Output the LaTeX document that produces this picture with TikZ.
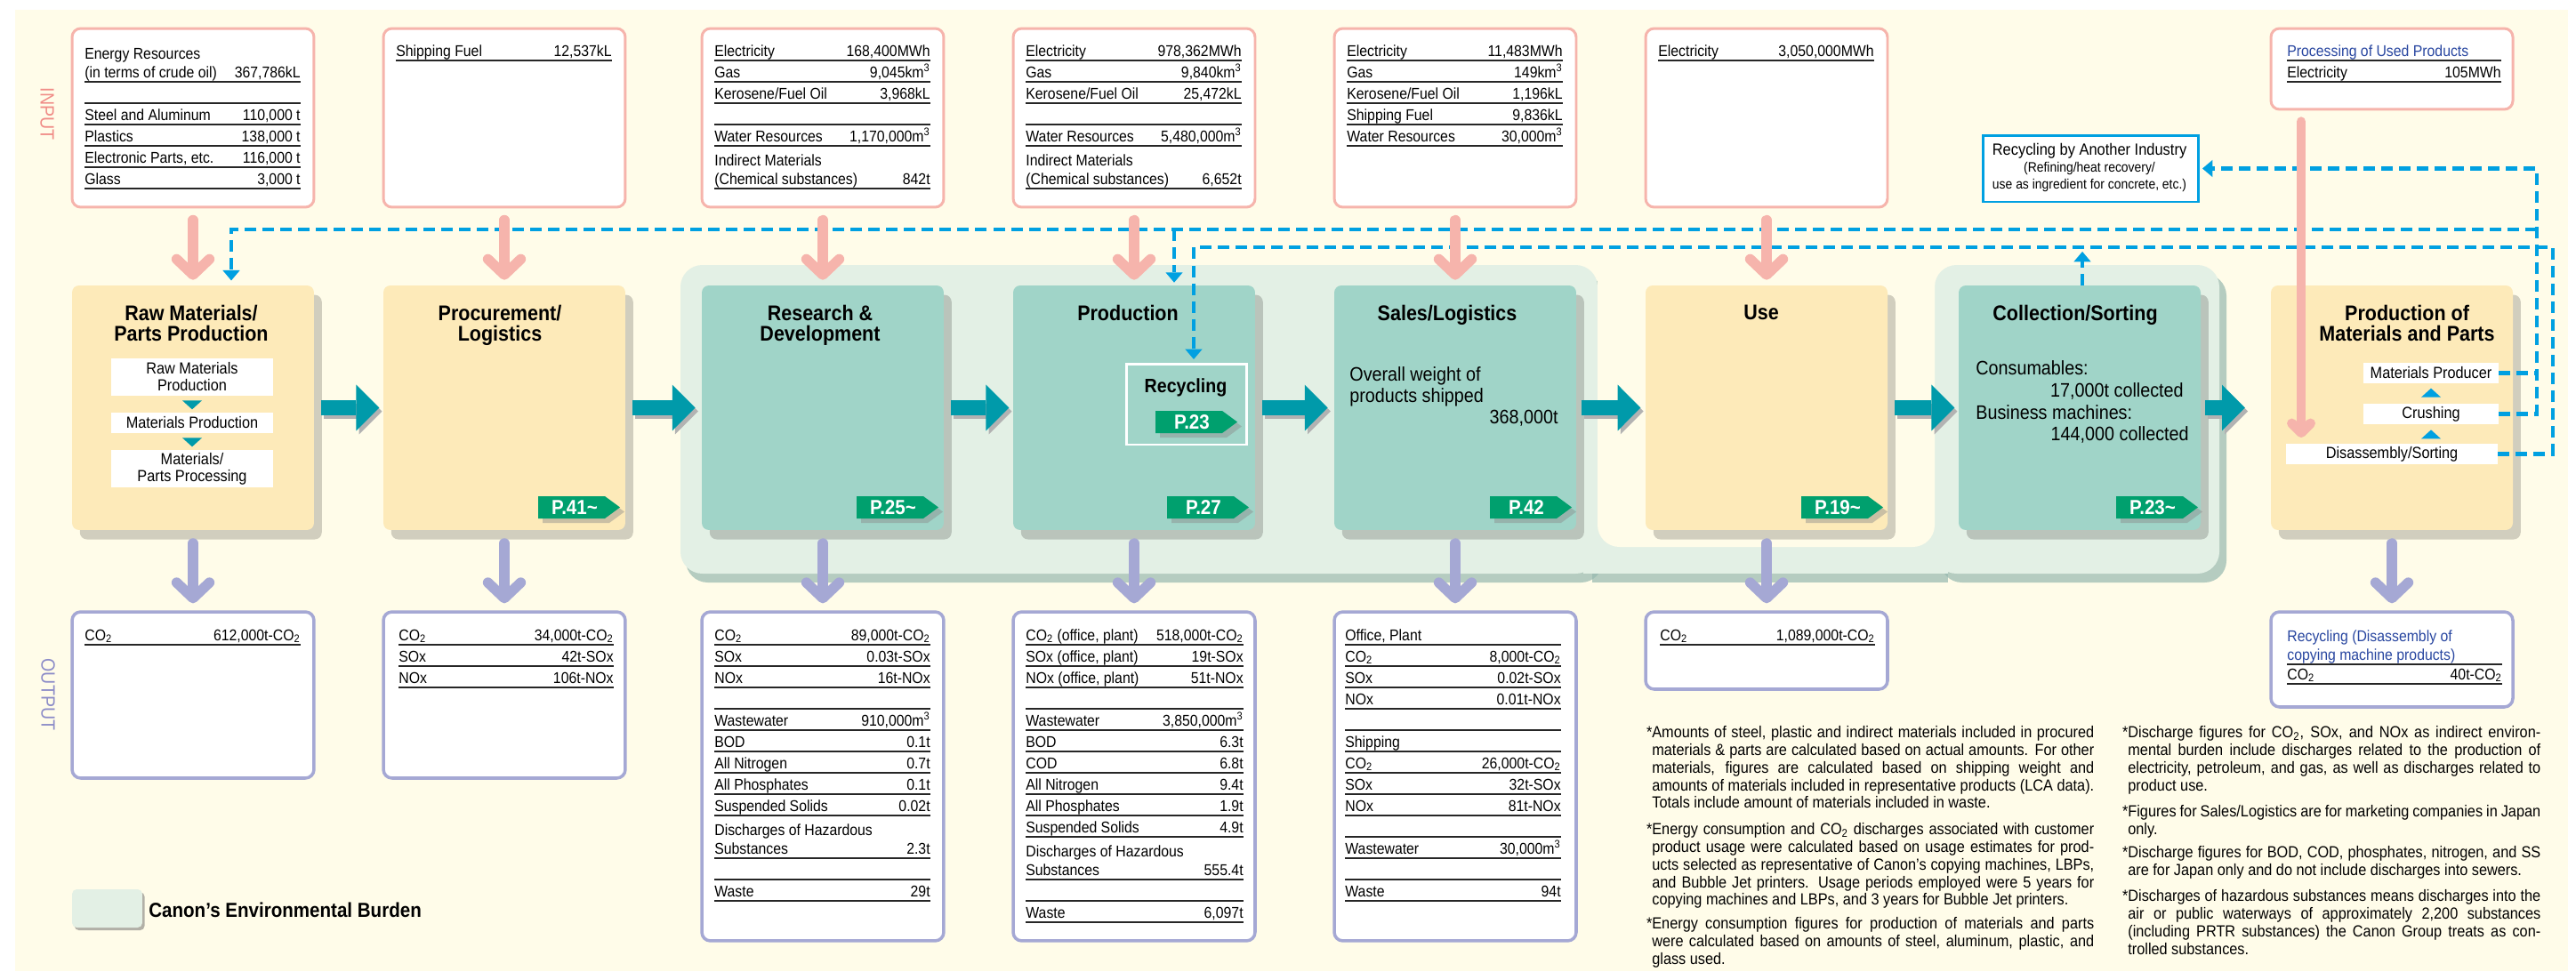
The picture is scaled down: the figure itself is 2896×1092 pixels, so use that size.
\documentclass[tikz,border=0pt]{standalone}
\usepackage{fontspec}
\setmainfont{Liberation Sans}[FakeStretch=0.9]
\usetikzlibrary{arrows.meta,shadows}

\definecolor{cream}{RGB}{255,252,233}
\definecolor{inpink}{RGB}{246,180,172}
\definecolor{inlabel}{RGB}{240,140,135}
\definecolor{outlav}{RGB}{165,168,212}
\definecolor{outlabel}{RGB}{140,140,200}
\definecolor{boxorange}{RGB}{253,234,185}
\definecolor{boxteal}{RGB}{160,212,200}
\definecolor{burden}{RGB}{227,240,229}
\definecolor{burdenshade}{RGB}{150,185,175}
\definecolor{arrowteal}{RGB}{0,154,170}
\definecolor{tagteal}{RGB}{0,160,110}
\definecolor{dashblue}{RGB}{0,160,225}
\definecolor{titleblue}{RGB}{40,70,160}

\newcommand\cotwo{CO\textsubscript{2}}
\newcommand\mcube{m\textsuperscript{3}}
\newcounter{cell}
\newcommand\trow[5]{%
  \stepcounter{cell}%
  \node[celltext, anchor=base west] (c\thecell a) at (#1,#3-5) {#4};
  \node[celltext, anchor=base east] (c\thecell b) at (#2,#3-5) {#5};
  \draw[rowrule] (#1,#3) -- (#2,#3);}
\newcommand\trowii[6]{%
  \stepcounter{cell}%
  \node[celltext, anchor=base west] (c\thecell a) at (#1,#3-26) {#4};
  \node[celltext, anchor=base west] (c\thecell b) at (#1,#3-5) {#5};
  \node[celltext, anchor=base east] (c\thecell c) at (#2,#3-5) {#6};
  \draw[rowrule] (#1,#3) -- (#2,#3);}
\newcommand\tblline[3]{\draw[rowrule] (#1,#3) -- (#2,#3);}
\newcommand\ptag[4]{%
  \fill[black!45, opacity=.45] (#2-87,#3+5) -- (#2-12,#3+5) -- (#2+5,#3+17.5) -- (#2-12,#3+30) -- (#2-87,#3+30) -- cycle;
  \fill[tagteal] (#2-92,#3) -- (#2-17,#3) -- (#2,#3+12.5) -- (#2-17,#3+25) -- (#2-92,#3+25) -- cycle;
  \node[tagtext] (#1) at (#2-51,#3+12.5) {#4};}
\newcommand\flowarr[4]{%
  \draw[flow, draw=black!30, transform canvas={xshift=1.8pt, yshift=-2.3pt}, shorten <=#3, shorten >=#4] (#1.east) -- (#2.west);
  \draw[flow, shorten <=#3, shorten >=#4] (#1.east) -- (#2.west);}
\newcommand\jla[1]{\makebox[9.94cm][s]{#1}}
\newcommand\jra[1]{\makebox[9.28cm][s]{#1}}

\begin{document}
\begin{tikzpicture}[x=0.02cm, y=-0.02cm,
  celltext/.style={inner sep=0pt, font=\fontsize{10}{12}\selectfont},
  rowrule/.style={line width=0.9pt, black!85},
  inbox/.style={draw=inpink, line width=1.7pt, fill=white, rounded corners=5.5pt, minimum width=5.44cm},
  outbox/.style={draw=outlav, line width=2pt, fill=white, rounded corners=5.5pt, minimum width=5.44cm},
  procbox/.style={rounded corners=4.5pt, minimum width=5.44cm, minimum height=5.5cm,
    drop shadow={shadow xshift=5pt, shadow yshift=-6pt, opacity=.18, fill=black}},
  proctitle/.style={inner sep=0pt, anchor=north, align=center, font=\fontsize{13.6}{13}\selectfont\bfseries},
  subbox/.style={fill=white, inner sep=0pt, align=center, font=\fontsize{10.3}{10.8}\selectfont},
  bigtext/.style={inner sep=0pt, font=\fontsize{12.5}{14}\selectfont},
  tagtext/.style={inner sep=0pt, text=white, font=\fontsize{13}{14}\selectfont\bfseries},
  inarrow/.style={inpink, line width=6.5pt, line cap=round, -{Straight Barb[length=10pt, width=21pt, round]}},
  outarrow/.style={outlav, line width=6.5pt, line cap=round, -{Straight Barb[length=10pt, width=21pt, round]}},
  pinkthin/.style={inpink, line width=6.2pt, line cap=round, -{Straight Barb[length=6pt, width=12pt, round]}},
  flow/.style={arrowteal, line width=9.6pt, -{Triangle[length=14.7pt, width=29.5pt, line width=0pt]}},
  recyc/.style={dashblue, line width=2.3pt, dash pattern=on 7.4pt off 4pt},
  recycarrow/.style={recyc, -{Triangle[length=6.5pt, width=11pt, line width=0pt]}},
  note/.style={inner sep=0pt, anchor=north west, align=left, font=\fontsize{10.3}{11.3}\selectfont},
]
\useasboundingbox (0,0) rectangle (2896,1092);
\fill[cream] (17,11) rectangle (2887,1092);

\fill[burdenshade, opacity=.7, rounded corners=14pt] (771,308) rectangle (1802,655);
\fill[burdenshade, opacity=.7, rounded corners=14pt] (2181,308) rectangle (2503,655);
\fill[burdenshade, opacity=.7] (1790,570) rectangle (2190,655);
\fill[burden, rounded corners=14pt] (765,298) rectangle (1796,645);
\fill[burden, rounded corners=14pt] (2175,298) rectangle (2495,645);
\fill[burden] (1780,560) rectangle (2190,645);
\fill[cream, rounded corners=14pt] (1796,240) rectangle (2175,615);

\node[rotate=-90, inner sep=0pt, text=inlabel, font=\fontsize{12.4}{14}\selectfont] (inlbl) at (53,128) {INPUT};
\node[rotate=-90, inner sep=0pt, text=outlabel, font=\fontsize{12.4}{14}\selectfont] (outlbl) at (54,781) {OUTPUT};

\node[inbox, minimum height=4.02cm] (in0) at (217,132.5) {};
\node[inbox, minimum height=4.02cm] (in1) at (567,132.5) {};
\node[inbox, minimum height=4.02cm] (in2) at (925,132.5) {};
\node[inbox, minimum height=4.02cm] (in3) at (1275,132.5) {};
\node[inbox, minimum height=4.02cm] (in4) at (1636,132.5) {};
\node[inbox, minimum height=4.02cm] (in5) at (1986,132.5) {};
\node[inbox, minimum height=1.82cm] (in7) at (2689,77.5) {};

\node[procbox, fill=boxorange] (raw) at (217,458.5) {};
\node[procbox, fill=boxorange] (proc) at (567,458.5) {};
\node[procbox, fill=boxteal] (rnd) at (925,458.5) {};
\node[procbox, fill=boxteal] (prod) at (1275,458.5) {};
\node[procbox, fill=boxteal] (sales) at (1636,458.5) {};
\node[procbox, fill=boxorange] (use) at (1986,458.5) {};
\node[procbox, fill=boxteal] (coll) at (2338,458.5) {};
\node[procbox, fill=boxorange] (pmat) at (2689,458.5) {};

\node[outbox, minimum height=3.74cm] (out0) at (217,781.5) {};
\node[outbox, minimum height=3.74cm] (out1) at (567,781.5) {};
\node[outbox, minimum height=7.4cm] (out2) at (925,873) {};
\node[outbox, minimum height=7.4cm] (out3) at (1275,873) {};
\node[outbox, minimum height=7.4cm] (out4) at (1636,873) {};
\node[outbox, minimum height=1.74cm] (out5) at (1986,731.5) {};
\node[outbox, minimum height=2.14cm] (out7) at (2689,741.5) {};

\trowii{95}{338}{92}{Energy Resources}{(in terms of crude oil)}{367,786kL}
\tblline{95}{338}{116}
\trow{95}{338}{140}{Steel and Aluminum}{110,000 t}
\trow{95}{338}{164}{Plastics}{138,000 t}
\trow{95}{338}{188}{Electronic Parts, etc.}{116,000 t}
\trow{95}{338}{212}{Glass}{3,000 t}

\trow{445}{688}{68}{Shipping Fuel}{12,537kL}

\trow{803}{1046}{68}{Electricity}{168,400MWh}
\trow{803}{1046}{92}{Gas}{9,045k\mcube}
\trow{803}{1046}{116}{Kerosene/Fuel Oil}{3,968kL}
\tblline{803}{1046}{140}
\trow{803}{1046}{164}{Water Resources}{1,170,000\mcube}
\trowii{803}{1046}{212}{Indirect Materials}{(Chemical substances)}{842t}

\trow{1153}{1396}{68}{Electricity}{978,362MWh}
\trow{1153}{1396}{92}{Gas}{9,840k\mcube}
\trow{1153}{1396}{116}{Kerosene/Fuel Oil}{25,472kL}
\tblline{1153}{1396}{140}
\trow{1153}{1396}{164}{Water Resources}{5,480,000\mcube}
\trowii{1153}{1396}{212}{Indirect Materials}{(Chemical substances)}{6,652t}

\trow{1514}{1757}{68}{Electricity}{11,483MWh}
\trow{1514}{1757}{92}{Gas}{149k\mcube}
\trow{1514}{1757}{116}{Kerosene/Fuel Oil}{1,196kL}
\trow{1514}{1757}{140}{Shipping Fuel}{9,836kL}
\trow{1514}{1757}{164}{Water Resources}{30,000\mcube}

\trow{1864}{2107}{68}{Electricity}{3,050,000MWh}

\trow{2571}{2812}{68}{\textcolor{titleblue}{Processing of Used Products}}{}
\trow{2571}{2812}{92}{Electricity}{105MWh}

\trow{95}{338}{725}{\cotwo}{612,000t-\cotwo}

\trow{448}{690}{725}{\cotwo}{34,000t-\cotwo}
\trow{448}{690}{749}{SOx}{42t-SOx}
\trow{448}{690}{773}{NOx}{106t-NOx}

\trow{803}{1046}{725}{\cotwo}{89,000t-\cotwo}
\trow{803}{1046}{749}{SOx}{0.03t-SOx}
\trow{803}{1046}{773}{NOx}{16t-NOx}
\tblline{803}{1046}{797}
\trow{803}{1046}{821}{Wastewater}{910,000\mcube}
\trow{803}{1046}{845}{BOD}{0.1t}
\trow{803}{1046}{869}{All Nitrogen}{0.7t}
\trow{803}{1046}{893}{All Phosphates}{0.1t}
\trow{803}{1046}{917}{Suspended Solids}{0.02t}
\trowii{803}{1046}{965}{Discharges of Hazardous}{Substances}{2.3t}
\tblline{803}{1046}{989}
\trow{803}{1046}{1013}{Waste}{29t}

\trow{1153}{1398}{725}{\cotwo{} (office, plant)}{518,000t-\cotwo}
\trow{1153}{1398}{749}{SOx (office, plant)}{19t-SOx}
\trow{1153}{1398}{773}{NOx (office, plant)}{51t-NOx}
\tblline{1153}{1398}{797}
\trow{1153}{1398}{821}{Wastewater}{3,850,000\mcube}
\trow{1153}{1398}{845}{BOD}{6.3t}
\trow{1153}{1398}{869}{COD}{6.8t}
\trow{1153}{1398}{893}{All Nitrogen}{9.4t}
\trow{1153}{1398}{917}{All Phosphates}{1.9t}
\trow{1153}{1398}{941}{Suspended Solids}{4.9t}
\trowii{1153}{1398}{989}{Discharges of Hazardous}{Substances}{555.4t}
\tblline{1153}{1398}{1013}
\trow{1153}{1398}{1037}{Waste}{6,097t}

\trow{1512}{1755}{725}{Office, Plant}{}
\trow{1512}{1755}{749}{\cotwo}{8,000t-\cotwo}
\trow{1512}{1755}{773}{SOx}{0.02t-SOx}
\trow{1512}{1755}{797}{NOx}{0.01t-NOx}
\tblline{1512}{1755}{821}
\trow{1512}{1755}{845}{Shipping}{}
\trow{1512}{1755}{869}{\cotwo}{26,000t-\cotwo}
\trow{1512}{1755}{893}{SOx}{32t-SOx}
\trow{1512}{1755}{917}{NOx}{81t-NOx}
\tblline{1512}{1755}{941}
\trow{1512}{1755}{965}{Wastewater}{30,000\mcube}
\tblline{1512}{1755}{989}
\trow{1512}{1755}{1013}{Waste}{94t}

\trow{1866}{2108}{725}{\cotwo}{1,089,000t-\cotwo}

\trowii{2571}{2813}{747}{\textcolor{titleblue}{Recycling (Disassembly of}}{\textcolor{titleblue}{copying machine products)}}{}
\trow{2571}{2813}{769}{\cotwo}{40t-\cotwo}

\node[proctitle] (t0) at (215,343) {Raw Materials/\\Parts Production};
\node[proctitle] (t1) at (562,343) {Procurement/\\Logistics};
\node[proctitle] (t2) at (922,343) {Research \&\\Development};
\node[proctitle] (t3) at (1268,343) {Production};
\node[proctitle] (t4) at (1627,343) {Sales/Logistics};
\node[proctitle] (t5) at (1980,343) {Use};
\node[proctitle] (t6) at (2333,343) {Collection/Sorting};
\node[proctitle] (t7) at (2706,343) {Production of\\Materials and Parts};

\node[subbox, minimum width=3.64cm, minimum height=0.84cm] (rmp) at (216,424) {Raw Materials\\Production};
\node[subbox, minimum width=3.64cm, minimum height=0.46cm] (mpd) at (216,475.5) {Materials Production};
\node[subbox, minimum width=3.64cm, minimum height=0.84cm] (mpp) at (216,527) {Materials/\\Parts Processing};
\fill[arrowteal] (rmp.south) ++(-11,5) -- ++(22,0) -- ++(-11,10) -- cycle;
\fill[arrowteal] (mpd.south) ++(-11,5) -- ++(22,0) -- ++(-11,10) -- cycle;

\node[subbox, minimum width=3.04cm, minimum height=0.46cm] (mp) at (2733,419.5) {Materials Producer};
\node[subbox, minimum width=3.04cm, minimum height=0.46cm] (cr) at (2733,465.5) {Crushing};
\node[subbox, minimum width=4.76cm, minimum height=0.46cm] (ds) at (2689,510.5) {Disassembly/Sorting};
\fill[dashblue] (cr.north) ++(-11,-7) -- ++(22,0) -- ++(-11,-10) -- cycle;
\fill[dashblue] (cr.south) ++(-11,16) -- ++(22,0) -- ++(-11,-10) -- cycle;

\node[bigtext, anchor=base west] (sw1) at (1517,428) {Overall weight of};
\node[bigtext, anchor=base west] (sw2) at (1517,452) {products shipped};
\node[bigtext, anchor=base east] (sw3) at (1752,476) {368,000t};
\node[bigtext, anchor=base west] (cs1) at (2221,421) {Consumables:};
\node[bigtext, anchor=base east] (cs2) at (2455,446) {17,000t collected};
\node[bigtext, anchor=base west] (cs3) at (2221,471) {Business machines:};
\node[bigtext, anchor=base east] (cs4) at (2461,495) {144,000 collected};

\node[draw=white, line width=1.7pt, minimum width=2.7cm, minimum height=1.82cm] (rec) at (1333.5,454.5) {};
\node[inner sep=0pt, anchor=base, font=\fontsize{12.4}{14}\selectfont\bfseries] (rect) at (1333,441) {Recycling};
\ptag{p23r}{1391}{462}{P.23}

\ptag{p41}{697}{558}{P.41\textasciitilde}
\ptag{p25}{1055}{558}{P.25\textasciitilde}
\ptag{p27}{1404}{558}{P.27}
\ptag{p42}{1767}{558}{P.42}
\ptag{p19}{2117}{558}{P.19\textasciitilde}
\ptag{p23}{2471}{558}{P.23\textasciitilde}

\node[draw=dashblue, line width=1.7pt, fill=white, minimum width=4.84cm, minimum height=1.5cm] (rai) at (2350,189.5) {};
\node[inner sep=0pt, anchor=base, font=\fontsize{10.4}{12}\selectfont] (rai1) at (2349,174) {Recycling by Another Industry};
\node[inner sep=0pt, anchor=base, font=\fontsize{8.8}{10}\selectfont] (rai2) at (2349,193) {(Refining/heat recovery/};
\node[inner sep=0pt, anchor=base, font=\fontsize{8.8}{10}\selectfont] (rai3) at (2349,212) {use as ingredient for concrete, etc.)};

\coordinate (ua) at (2852,189.5);
\coordinate (ub) at (2852,258);
\coordinate (uc) at (260,258);
\coordinate (ud) at (1320,258);
\coordinate (la) at (1342,278);
\coordinate (lb) at (2870,278);
\coordinate (lc) at (2341,278);
\coordinate (dsin) at (2587,492);

\draw[recycarrow, shorten >=2pt] (cr.east) -| (ua) -- (rai.east);
\draw[recyc] (mp.east) -- (mp.east -| ua);
\draw[recycarrow, shorten >=3pt] (ub) -- (uc) -- (uc |- raw.north);
\draw[recycarrow, shorten >=1.7pt] (ud) -- (ud |- prod.north);
\draw[recycarrow, shorten >=2pt] (ds.east) -| (lb) -- (la) -- (la |- rec.north);
\draw[recycarrow, shorten >=2.8pt] (coll.north -| lc) -- (lc);

\draw[inarrow, shorten <=7.4pt, shorten >=3.4pt] (in0.south) -- (raw.north);
\draw[inarrow, shorten <=7.4pt, shorten >=3.4pt] (in1.south) -- (proc.north);
\draw[inarrow, shorten <=7.4pt, shorten >=3.4pt] (in2.south) -- (rnd.north);
\draw[inarrow, shorten <=7.4pt, shorten >=3.4pt] (in3.south) -- (prod.north);
\draw[inarrow, shorten <=7.4pt, shorten >=3.4pt] (in4.south) -- (sales.north);
\draw[inarrow, shorten <=7.4pt, shorten >=3.4pt] (in5.south) -- (use.north);
\draw[pinkthin, shorten <=7pt] (in7.south -| dsin) -- (dsin);

\draw[outarrow, shorten <=8.3pt, shorten >=4.5pt] (raw.south) -- (out0.north);
\draw[outarrow, shorten <=8.3pt, shorten >=4.5pt] (proc.south) -- (out1.north);
\draw[outarrow, shorten <=8.3pt, shorten >=4.5pt] (rnd.south) -- (out2.north);
\draw[outarrow, shorten <=8.3pt, shorten >=4.5pt] (prod.south) -- (out3.north);
\draw[outarrow, shorten <=8.3pt, shorten >=4.5pt] (sales.south) -- (out4.north);
\draw[outarrow, shorten <=8.3pt, shorten >=4.5pt] (use.south) -- (out5.north);
\draw[outarrow, shorten <=8.3pt, shorten >=4.5pt] (pmat.south) -- (out7.north);

\flowarr{raw}{proc}{4.5pt}{2.5pt}
\flowarr{proc}{rnd}{4.5pt}{4pt}
\flowarr{rnd}{prod}{4.5pt}{2.5pt}
\flowarr{prod}{sales}{4.5pt}{4pt}
\flowarr{sales}{use}{3pt}{3pt}
\flowarr{use}{coll}{4.5pt}{2.5pt}
\flowarr{coll}{pmat}{2.8pt}{16.4pt}

\node[fill=burden, rounded corners=3pt, minimum width=1.58cm, minimum height=0.86cm,
  drop shadow={shadow xshift=1.5pt, shadow yshift=-1.8pt, opacity=.5, fill=black!60}] (leg) at (120.5,1021.5) {};
\node[inner sep=0pt, anchor=base west, font=\fontsize{13}{15}\selectfont\bfseries] (legt) at (167,1031) {Canon’s Environmental Burden};

\node[note] (fn1) at (1857,816) {\jla{\llap{*}Amounts of steel, plastic and indirect materials included in procured}\\
  \jla{materials \& parts are calculated based on actual amounts. For other}\\
  \jla{materials, figures are calculated based on shipping weight and}\\
  \jla{amounts of materials included in representative products (LCA data).}\\
  Totals include amount of materials included in waste.};
\node[note] (fn2) at (1857,925) {\jla{\llap{*}Energy consumption and \cotwo{} discharges associated with customer}\\
  \jla{product usage were calculated based on usage estimates for prod-}\\
  \jla{ucts selected as representative of Canon’s copying machines, LBPs,}\\
  \jla{and Bubble Jet printers. Usage periods employed were 5 years for}\\
  copying machines and LBPs, and 3 years for Bubble Jet printers.};
\node[note] (fn3) at (1857,1031) {\jla{\llap{*}Energy consumption figures for production of materials and parts}\\
  \jla{were calculated based on amounts of steel, aluminum, plastic, and}\\
  glass used.};
\node[note] (fn4) at (2392,816) {\jra{\llap{*}Discharge figures for \cotwo, SOx, and NOx as indirect environ-}\\
  \jra{mental burden include discharges related to the production of}\\
  \jra{electricity, petroleum, and gas, as well as discharges related to}\\
  product use.};
\node[note] (fn5) at (2392,905) {\jra{\llap{*}Figures for Sales/Logistics are for marketing companies in Japan}\\
  only.};
\node[note] (fn6) at (2392,951) {\jra{\llap{*}Discharge figures for BOD, COD, phosphates, nitrogen, and SS}\\
  are for Japan only and do not include discharges into sewers.};
\node[note] (fn7) at (2392,1000) {\jra{\llap{*}Discharges of hazardous substances means discharges into the}\\
  \jra{air or public waterways of approximately 2,200 substances}\\
  \jra{(including PRTR substances) the Canon Group treats as con-}\\
  trolled substances.};
\end{tikzpicture}
\end{document}
